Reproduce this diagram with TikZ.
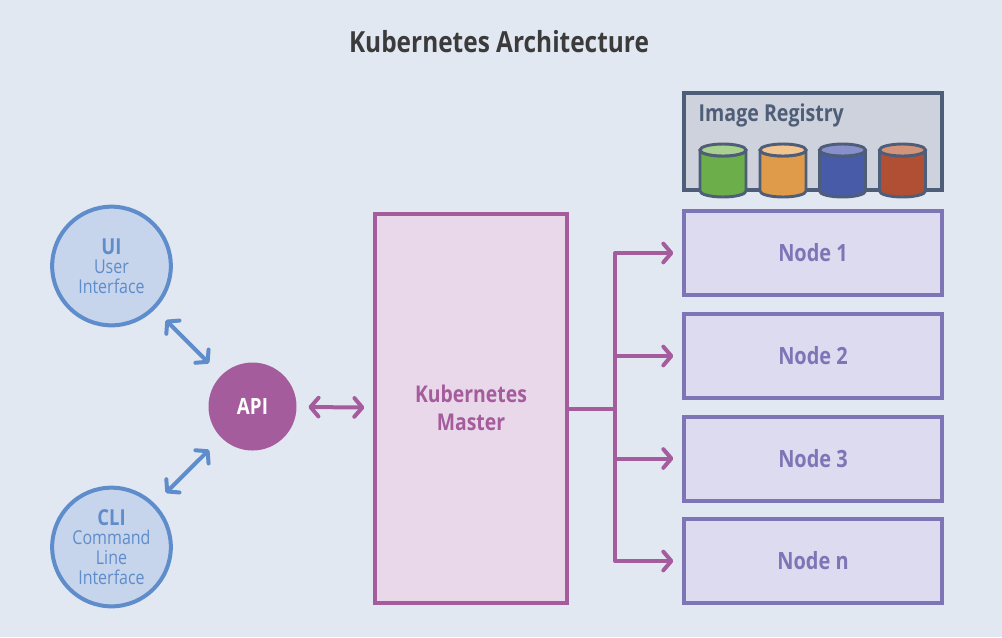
\documentclass[tikz,border=0pt]{standalone}
\usepackage{fontspec}
\setmainfont{Open Sans}[FakeStretch=0.84]
\usetikzlibrary{arrows.meta}
\usetikzlibrary{positioning}
\definecolor{bgcol}{HTML}{E2E8F2}
\definecolor{tcol}{HTML}{3B3B3B}
\definecolor{mblue}{HTML}{5F8DCB}
\definecolor{lblue}{HTML}{C6D4EC}
\definecolor{mpurple}{HTML}{A55C9C}
\definecolor{lpurple}{HTML}{E8D8E9}
\definecolor{mviolet}{HTML}{7E75B6}
\definecolor{lviolet}{HTML}{DCDBEF}
\definecolor{mslate}{HTML}{4F5E78}
\definecolor{lslate}{HTML}{CED2DC}
\tikzset{
  client/.style = {circle, draw=mblue, fill=lblue, line width=3pt, minimum size=89pt,
                   inner sep=0, outer sep=0, text=mblue, align=center,
                   font=\fontsize{14.3}{15}\selectfont},
  apinode/.style = {circle, fill=mpurple, minimum size=66pt, inner sep=0, outer sep=0,
                    text=white, font=\fontsize{16.8}{18}\selectfont\bfseries},
  master/.style = {rectangle, draw=mpurple, fill=lpurple, line width=3pt, minimum width=144pt,
                   minimum height=292pt, inner sep=0, outer sep=0, text=mpurple, align=center,
                   font=\fontsize{17.3}{20.8}\selectfont\bfseries},
  worker/.style = {rectangle, draw=mviolet, fill=lviolet, line width=3pt, minimum width=193.5pt,
                   minimum height=63pt, inner sep=0, outer sep=0, text=mviolet,
                   font=\fontsize{17.8}{20}\selectfont\bfseries},
  registry/.style = {rectangle, draw=mslate, fill=lslate, line width=3pt, minimum width=193.5pt,
                     minimum height=72.75pt, inner sep=0, outer sep=0},
  barrow/.style = {mblue, line width=3pt, line cap=round,
                   {Straight Barb[length=6pt,width=14pt,round]}-{Straight Barb[length=6pt,width=14pt,round]}},
  parrow/.style = {mpurple, line width=3pt, line cap=round,
                   {Straight Barb[length=6pt,width=14pt,round]}-{Straight Barb[length=6pt,width=14pt,round]}},
  plink/.style = {mpurple, line width=3pt, line join=round},
  pout/.style = {plink, line cap=round, -{Straight Barb[length=6pt,width=14pt,round]}}
}
\begin{document}
\begin{tikzpicture}[x=0.75pt, y=-0.75pt]
  \fill[bgcol] (0, 0) rectangle (1002, 637);

  \node [text=tcol, font=\fontsize{21.8}{24}\selectfont\bfseries] (title) at (499, 42) {Kubernetes Architecture};

  \node [client] (ui) at (111.5, 266) {{\fontsize{16.5}{17}\selectfont\bfseries UI}\\[-1pt]User\\Interface};
  \node [client] (cli) at (111.5, 547) {{\fontsize{16.5}{17}\selectfont\bfseries CLI}\\[-1pt]Command\\Line\\Interface};
  \node [apinode] (api) at (252.5, 406.5) {API};

  \node [master] (master) at (471, 408.5) {\raisebox{1.5pt}{Kubernetes}\\\raisebox{1.5pt}{Master}};

  \node [registry] (reg) at (813, 141.5) {};
  \node [anchor=west, text=mslate, font=\fontsize{17.5}{20}\selectfont\bfseries] (reglabel) at (694, 115) {Image Registry};
  \foreach \x/\body/\top in {723/6BAE4A/A8D08E, 783/E09B4A/F2C48E, 842.5/485BA8/8890CC, 902.5/B14F35/D39378} {
    \definecolor{cbody}{HTML}{\body}
    \definecolor{ctop}{HTML}{\top}
    \draw [mslate, fill=cbody, line width=2.2pt, line join=round]
      (\x-23, 150) -- (\x-23, 191) arc [start angle=180, end angle=0, x radius=23, y radius=6]
      -- (\x+23, 150) arc [start angle=0, end angle=180, x radius=23, y radius=6] -- cycle;
    \draw [mslate, fill=ctop, line width=2.2pt] (\x, 150) ellipse [x radius=23, y radius=6];
  }

  \node [worker] (n1) at (813, 253) {Node 1};
  \node [worker] (n2) at (813, 356) {Node 2};
  \node [worker] (n3) at (813, 458.5) {Node 3};
  \node [worker] (nn) at (813, 561) {Node n};

  \draw [barrow, shorten <=13pt, shorten >=13pt] (ui) -- (api);
  \draw [barrow, shorten <=13pt, shorten >=13pt] (cli) -- (api);
  \draw [parrow, shorten <=9pt, shorten >=8pt] (api) -- (master);

  \coordinate (hub) at (615, 408.5);
  \draw [plink] (master.east) -- (hub);
  \draw [plink] (hub |- n1) -- (hub |- nn);
  \foreach \n in {n1, n2, n3, nn}
    \draw [pout, shorten >=8pt] (hub |- \n) -- (\n.west);
\end{tikzpicture}
\end{document}
